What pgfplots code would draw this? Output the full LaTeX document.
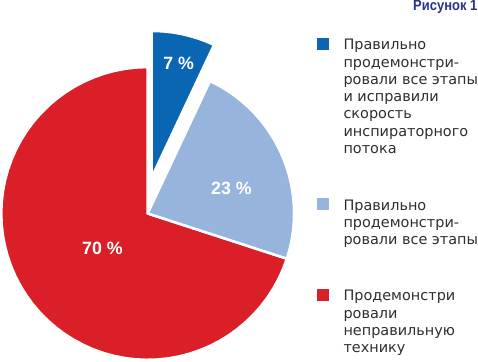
\documentclass[border=0pt]{standalone}
\usepackage{pgfplots}
\usepackage{pgfplotstable}
\pgfplotsset{compat=1.18}
\usepackage{fontspec}
\setmainfont{DejaVu Sans}
\newfontfamily\labfont{Liberation Sans}
\newfontfamily\titlefont{Liberation Sans}[FakeStretch=0.88]
\definecolor{pieblue}{HTML}{0A66B2}
\definecolor{pielight}{HTML}{97B4DD}
\definecolor{piered}{HTML}{DA1F28}
\definecolor{titleblue}{HTML}{2B3388}
\definecolor{legtext}{HTML}{2E2E2E}

\pgfplotstableread{
share
7
23
70
}\pietable
\pgfplotstablegetelem{0}{share}\of\pietable \let\vA\pgfplotsretval
\pgfplotstablegetelem{1}{share}\of\pietable \let\vB\pgfplotsretval
\pgfplotstablegetelem{2}{share}\of\pietable \let\vC\pgfplotsretval
\pgfmathsetmacro\aA{90}
\pgfmathsetmacro\aB{90-3.6*\vA}
\pgfmathsetmacro\aC{\aB-3.6*\vB}
\pgfmathsetmacro\aD{\aC-3.6*\vC}

\begin{document}
\begin{tikzpicture}
\begin{axis}[
  width=478pt, height=361pt, scale only axis,
  xmin=0, xmax=478, ymin=0, ymax=361,
  hide axis, clip=false,
  samples=60,
]
% red slice (70 %)
\addplot[fill=piered, draw=white, line width=2.5pt, line join=round, domain=\aD:\aC, variable=\t]
  ({148.5+144*cos(t)},{144+144*sin(t)}) -- (axis cs:148.5,144) -- cycle;
% light blue slice (23 %)
\addplot[fill=pielight, draw=white, line width=2.5pt, line join=round, domain=\aC:\aB, variable=\t]
  ({148.5+144*cos(t)},{144+144*sin(t)}) -- (axis cs:148.5,144) -- cycle;
% dark blue slice (7 %), exploded
\addplot[fill=pieblue, draw=white, line width=2.5pt, line join=round, domain=\aB:\aA, variable=\t]
  ({152.5+144*cos(t)},{179.5+144*sin(t)}) -- (axis cs:152.5,179.5) -- cycle;

% slice labels
\node[anchor=base, text=white, font={\labfont\bfseries\fontsize{17.5}{20}\selectfont}] at (axis cs:179,286) {\vA\ \%};
\node[anchor=base, text=white, font={\labfont\bfseries\fontsize{17.5}{20}\selectfont}] at (axis cs:231,163) {\vB\ \%};
\node[anchor=base, text=white, font={\labfont\bfseries\fontsize{17.5}{20}\selectfont}] at (axis cs:104,104) {\vC\ \%};

% title
\node[anchor=base east, inner sep=0pt, text=titleblue, font={\titlefont\bfseries\fontsize{14.5}{17}\selectfont}] at (axis cs:473,344) {Рисунок 1};

% legend
\fill[pieblue]  (axis cs:315,305) rectangle (axis cs:327,317);
\fill[pielight] (axis cs:315,147) rectangle (axis cs:327,159);
\fill[piered]   (axis cs:315,58)  rectangle (axis cs:327,70);
\begin{scope}[every node/.style={anchor=base west, inner sep=0pt, text=legtext, font=\fontsize{14.2}{17}\selectfont}]
\node at (axis cs:341,305) {Правильно};
\node at (axis cs:341,288) {продемонстри-};
\node at (axis cs:341,271) {ровали все этапы};
\node at (axis cs:341,254) {и исправили};
\node at (axis cs:341,237) {скорость};
\node at (axis cs:341,220) {инспираторного};
\node at (axis cs:341,203) {потока};
\node at (axis cs:341,147) {Правильно};
\node at (axis cs:341,130) {продемонстри-};
\node at (axis cs:341,113) {ровали все этапы};
\node at (axis cs:341,58) {Продемонстри};
\node at (axis cs:341,41) {ровали};
\node at (axis cs:341,24) {неправильную};
\node at (axis cs:341,7) {технику};
\end{scope}
\end{axis}
\end{tikzpicture}
\end{document}
